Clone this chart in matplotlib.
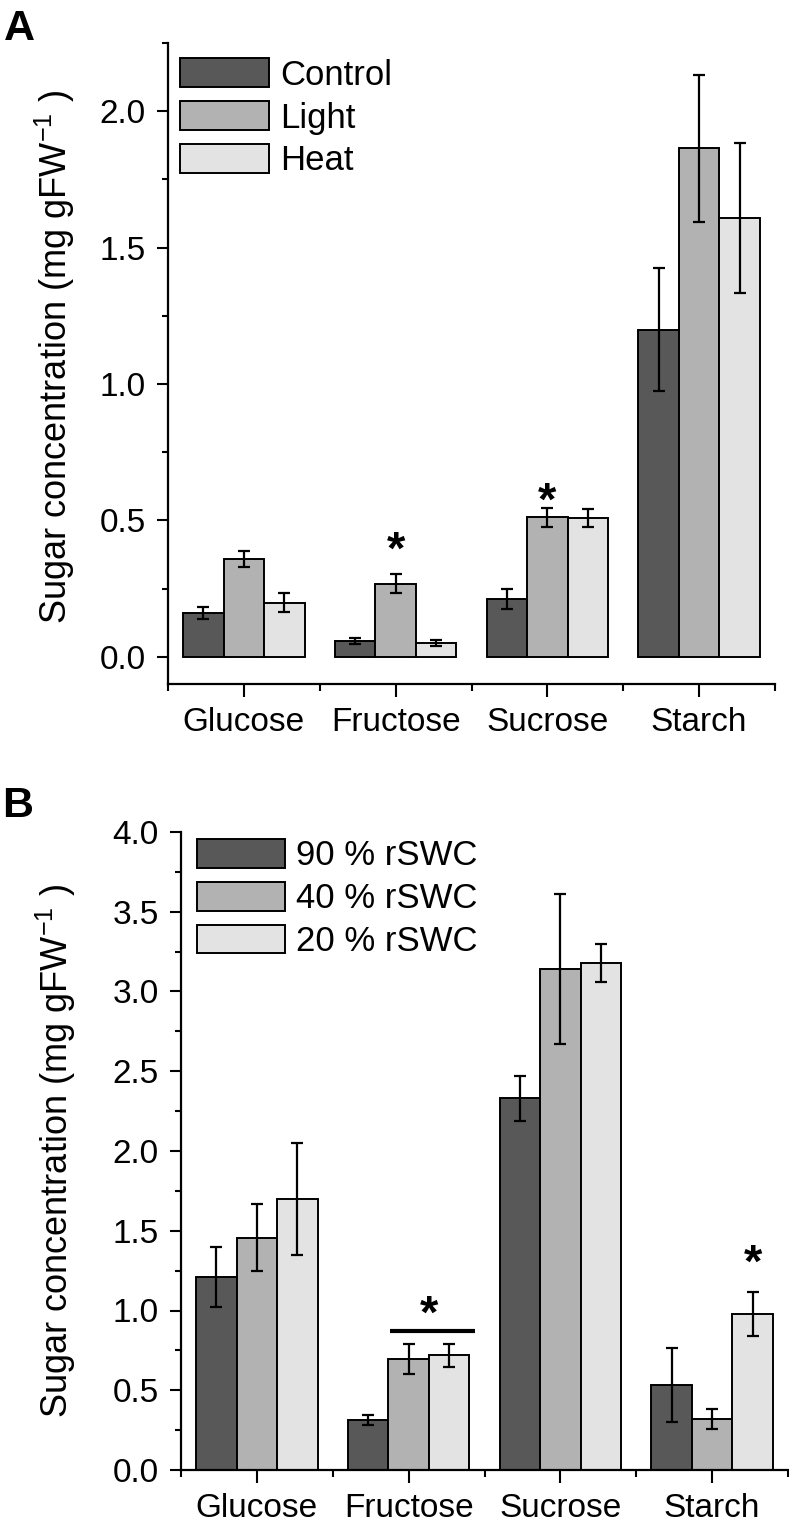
import numpy as np
import matplotlib
matplotlib.use('Agg')
import matplotlib.pyplot as plt
from matplotlib.ticker import MultipleLocator, FixedLocator, FormatStrFormatter

plt.rcParams['font.family'] = ['Liberation Sans', 'DejaVu Sans']
plt.rcParams['mathtext.fontset'] = 'custom'
plt.rcParams['mathtext.rm'] = 'Liberation Sans'
plt.rcParams['mathtext.default'] = 'regular'

# data
sugars = ['Glucose', 'Fructose', 'Sucrose', 'Starch']

# panel A: control / light / heat
labels_a = ['Control', 'Light', 'Heat']
mean_a = [[0.162, 0.057, 0.213, 1.199],
          [0.357, 0.268, 0.512, 1.864],
          [0.198, 0.051, 0.510, 1.607]]
err_a = [[0.022, 0.011, 0.037, 0.225],
         [0.029, 0.035, 0.035, 0.270],
         [0.035, 0.012, 0.033, 0.275]]
stars_a = [(1, 1, 0.385), (2, 1, 0.565)]   # (sugar idx, series idx, y)

# panel B: soil water content
labels_b = ['90 % rSWC', '40 % rSWC', '20 % rSWC']
mean_b = [[1.21, 0.313, 2.33, 0.533],
          [1.455, 0.696, 3.14, 0.320],
          [1.70, 0.720, 3.18, 0.978]]
err_b = [[0.19, 0.030, 0.14, 0.230],
         [0.21, 0.095, 0.47, 0.060],
         [0.35, 0.072, 0.12, 0.135]]
stars_b = [(1, 1.5, 0.965), (3, 2, 1.285)]
bracket_b = (1, 0.87)   # fructose, line height

colors = ['#585858', '#b2b2b2', '#e3e3e3']
ylab = 'Sugar concentration (mg gFW$^{-1}$ )'
fs = 24
w = 0.8 / 3


def panel(ax, means, errs, labels, ylim, ymaj, stars, leg_anchor):
    x = np.arange(len(sugars))
    for j in range(3):
        ax.bar(x + (j - 1) * w, means[j], w, yerr=errs[j], color=colors[j],
               edgecolor='black', linewidth=1.4, label=labels[j],
               error_kw=dict(ecolor='black', elinewidth=1.6, capsize=4.5, capthick=1.6))
    for gi, sj, yv in stars:
        ax.text(gi + (sj - 1) * w, yv, '*', ha='center', va='center',
                fontsize=34, fontweight='bold')
    ax.set_xlim(-0.5, 3.5)
    ax.set_ylim(*ylim)
    ax.spines['top'].set_visible(False)
    ax.spines['right'].set_visible(False)
    for s in ['left', 'bottom']:
        ax.spines[s].set_linewidth(1.6)
    ax.set_xticks(x)
    ax.set_xticklabels(sugars)
    ax.xaxis.set_minor_locator(FixedLocator(np.arange(-0.5, 4.0, 1.0)))
    ax.yaxis.set_major_locator(MultipleLocator(ymaj))
    ax.yaxis.set_minor_locator(MultipleLocator(ymaj / 2))
    ax.yaxis.set_major_formatter(FormatStrFormatter('%.1f'))
    ax.tick_params(axis='x', which='major', length=9.5, width=1.5, labelsize=fs, pad=7)
    ax.tick_params(axis='x', which='minor', length=5, width=1.5)
    ax.tick_params(axis='y', which='major', length=8, width=1.5, labelsize=fs, pad=8)
    ax.tick_params(axis='y', which='minor', length=4, width=1.5)
    ax.set_ylabel(ylab, fontsize=26)
    ax.legend(loc='upper left', bbox_to_anchor=leg_anchor, frameon=False, fontsize=25,
              handlelength=2.55, handleheight=0.9, handletextpad=0.32,
              labelspacing=0.27, borderpad=0, borderaxespad=0)


fig = plt.figure(figsize=(7.89, 15.30), dpi=100)
ax_a = fig.add_axes([168 / 789, 846 / 1530, 607 / 789, 641 / 1530])
ax_b = fig.add_axes([181 / 789, 60 / 1530, 607 / 789, 638 / 1530])

panel(ax_a, mean_a, err_a, labels_a, (-0.1, 2.25), 0.5, stars_a, (0.02, 0.976))
panel(ax_b, mean_b, err_b, labels_b, (0.0, 4.0), 0.5, stars_b, (0.026, 0.989))

# significance bar over the two stressed fructose groups
gi, yv = bracket_b
ax_b.hlines(yv, gi - 0.12, gi + 0.44, color='black', linewidth=3)

ax_a.yaxis.set_label_coords(-0.15, 0.51)
ax_b.yaxis.set_label_coords(-0.17, 0.5)

fig.text(0.005, 0.994, 'A', fontsize=31, fontweight='bold', va='top', ha='left')
fig.text(0.003, 0.486, 'B', fontsize=31, fontweight='bold', va='top', ha='left')

fig.savefig('out.png', dpi=100)
